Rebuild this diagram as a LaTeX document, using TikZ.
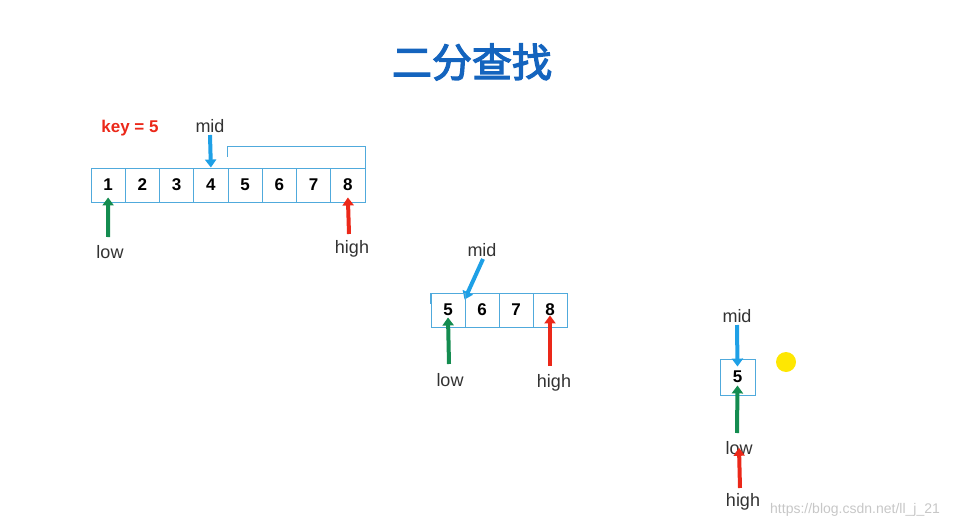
\documentclass[tikz,border=0pt]{standalone}
\usepackage{fontspec}
\setmainfont{Liberation Sans}
\newfontfamily\cjk{Noto Sans CJK SC}[FakeBold=3]
\usetikzlibrary{arrows.meta}
\definecolor{tblue}{RGB}{20,100,190}
\definecolor{ablue}{RGB}{30,160,230}
\definecolor{agreen}{RGB}{20,140,80}
\definecolor{ared}{RGB}{235,40,25}
\definecolor{cellc}{RGB}{80,170,220}
\definecolor{txt}{RGB}{50,50,50}
\tikzset{
 cell/.style={draw=cellc,line width=0.9pt,minimum width=34.25pt,minimum height=34pt,inner sep=0pt,font=\bfseries\fontsize{17}{17}\selectfont,text=black},
 barr/.style={line width=4pt,-{Triangle[width=11pt,length=8pt]}},
 lab/.style={font=\fontsize{18}{18}\selectfont,text=txt,inner sep=0pt},
 brk/.style={draw=cellc,line width=1.6pt}
}
\begin{document}
\begin{tikzpicture}[x=1pt,y=-1pt]
\useasboundingbox (0,0) rectangle (969,527);
\node[font=\cjk\fontsize{40}{40}\selectfont,text=tblue] (title) at (472,62) {二分查找};
\node[font=\bfseries\fontsize{17}{17}\selectfont,text=ared] (key) at (130,128) {key = 5};
% row 1
\foreach \i in {1,...,8}{
 \node[cell] (a\i) at ({91+34.25*(\i-0.5)},185) {\i};
}
\node[lab] (m1) at (210,126) {mid};
\coordinate (m1s) at (210,135);
\draw[barr,ablue] (m1s) -- (a4.north);
\draw[brk] (a5.north west) ++(0,-11) coordinate (b1a) -- ++(0,-10) -| ([yshift=-11pt]a8.north east);
\node[lab] (l1) at (110,252) {low};
\coordinate (l1s) at (108,237);
\draw[barr,agreen] (l1s) -- ([yshift=5pt]a1.south);
\node[lab] (h1) at (352,249) {high};
\coordinate (h1s) at (349,234);
\draw[barr,ared] (h1s) -- ([yshift=5pt]a8.south);
% row 2
\foreach \v [count=\i] in {5,6,7,8}{
 \node[cell,minimum width=34pt] (c\i) at ({431+34*(\i-0.5)},310) {\v};
}
\node[lab] (m2) at (482,250) {mid};
\coordinate (m2s) at (483,259);
\draw[barr,ablue] (m2s) -- ([yshift=-7pt]c2.north west);
\draw[brk] ([yshift=-11pt]c1.north west) -- ++(0,-10) -| ([yshift=-11pt]c1.north east);
\node[lab] (l2) at (450,380) {low};
\coordinate (l2s) at (449,364);
\draw[barr,agreen] (l2s) -- ([yshift=10pt]c1.south);
\node[lab] (h2) at (554,383) {high};
\coordinate (h2s) at (550,366);
\draw[barr,ared] (h2s) -- ([yshift=12pt]c4.south);
% row 3
\node[cell,minimum width=35pt,minimum height=36pt] (d1) at (737.5,377) {5};
\node[lab] (m3) at (737,316) {mid};
\coordinate (m3s) at (737,325);
\draw[barr,ablue] (m3s) -- ([yshift=-8pt]d1.north);
\node[lab] (l3) at (739,448) {low};
\coordinate (l3s) at (737,433);
\draw[barr,agreen] (l3s) -- ([yshift=10pt]d1.south);
\node[lab] (h3) at (743,502) {high};
\coordinate (h3s) at (740,488);
\draw[barr,ared] (h3s) -- ([yshift=7pt]l3.south);
\fill[yellow!90!orange] (786,362) circle (10);
\node[font=\fontsize{14}{14}\selectfont,text=black!22,anchor=west,inner sep=0pt] (wm) at (770,510) {https://blog.csdn.net/ll\_j\_21};
\end{tikzpicture}
\end{document}
